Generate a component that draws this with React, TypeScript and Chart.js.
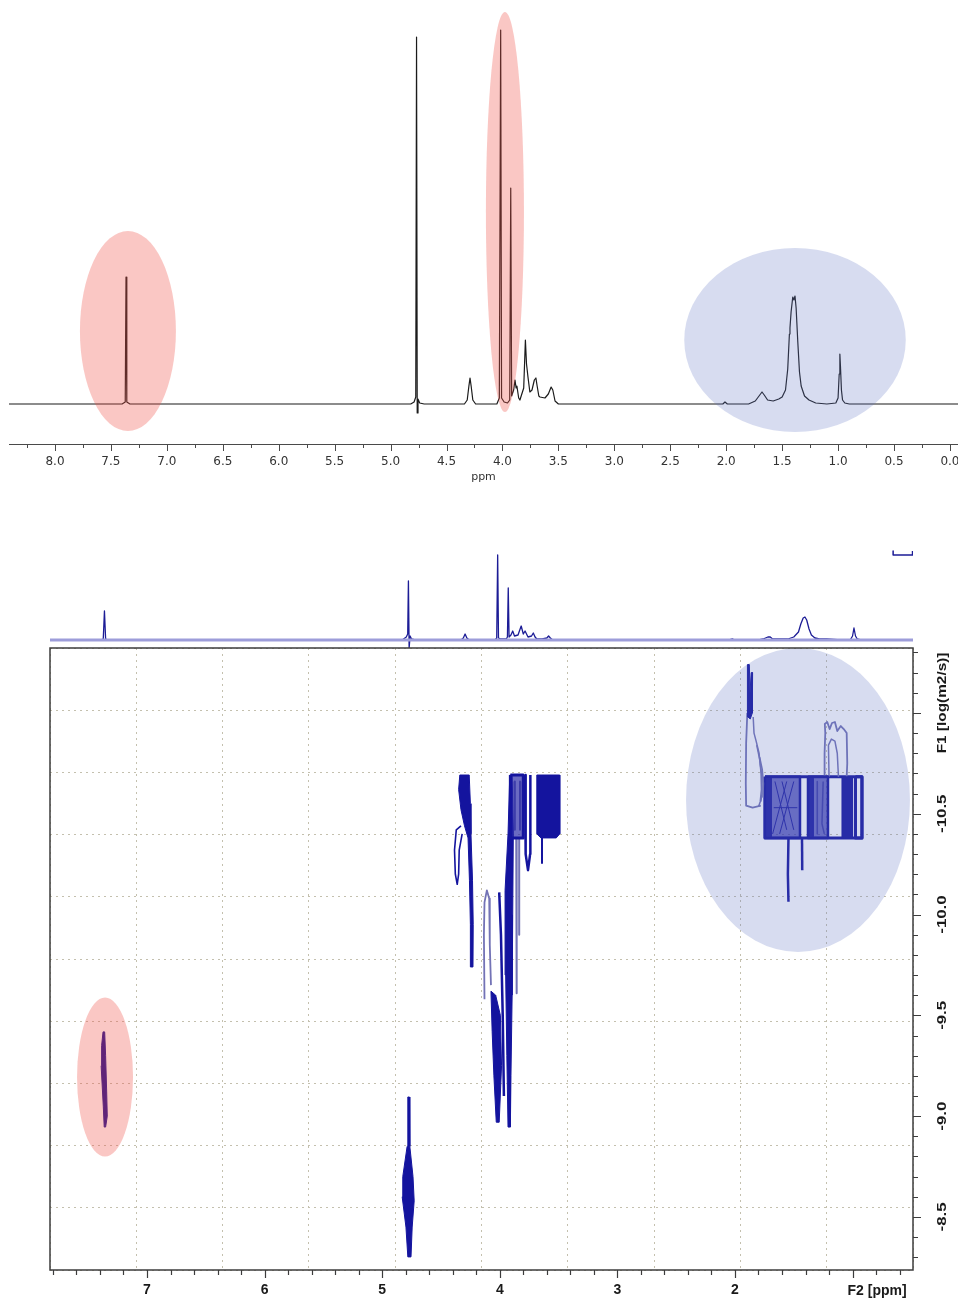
import React, { useEffect, useRef } from 'react';
import { Chart, registerables } from 'chart.js';

Chart.register(...registerables);

type Pt = [number, number];

/* ================= Panel 1 : 1H NMR spectrum ================= */
const TOP_PPM = [8.45, 7.40, 7.372, 7.365, 7.358, 7.33, 4.82, 4.79, 4.775, 4.768, 4.762, 4.755, 4.74, 4.70,
  4.34, 4.315, 4.30, 4.29, 4.28, 4.265, 4.24, 4.05, 4.028, 4.016, 4.008, 3.985, 3.955, 3.935, 3.926, 3.918,
  3.90, 3.888, 3.878, 3.871, 3.855, 3.844, 3.81, 3.795, 3.785, 3.772, 3.755, 3.736, 3.715, 3.701, 3.69,
  3.675, 3.665, 3.62, 3.59, 3.565, 3.55, 3.53, 3.50, 2.03, 2.011, 1.99, 1.80, 1.74, 1.70, 1.68, 1.66, 1.63,
  1.58, 1.53, 1.50, 1.47, 1.45, 1.435, 1.43, 1.42, 1.405, 1.395, 1.385, 1.375, 1.36, 1.345, 1.33, 1.30,
  1.26, 1.20, 1.10, 1.02, 1.00, 0.99, 0.984, 0.978, 0.97, 0.96, 0.94, 0.90, -0.10];
const TOP_INT = [0, 0, 2, 127, 2, 0, 0, 2, 7, 367, -9, 5, 1, 0,
  0, 4, 18, 26, 18, 4, 0, 0, 6, 374, 6, 2, 1, 4, 216, 8,
  14, 24, 16, 18, 6, 4, 16, 64, 40, 27, 12, 14, 24, 26, 18,
  8, 7, 6, 10, 17, 14, 3, 0, 0, 2, 0, 0, 3, 9, 12, 9, 4,
  3, 5, 7, 14, 35, 70, 76, 92, 107, 104, 108, 96, 62, 32, 18, 8,
  4, 1, 0, 1, 6, 30, 50, 36, 14, 4, 1, 0, 0];
const TOP_X_RANGE: Pt = [-0.072, 8.411];
const TOP_Y_RANGE: Pt = [-40, 394];
const TOP_MINOR_STEP = 0.25;
const TOP_MAJOR_STEP = 0.5;
const TOP_X_TITLE = 'ppm';

const TOP_HL_PPM = [7.348, 3.978, 1.385];
const TOP_HL_INT = [73, 192, 64];
const TOP_HL_HALF_PPM = [0.429, 0.17, 0.99];
const TOP_HL_HALF_INT = [100, 200, 92];
const TOP_HL_KIND = ['red', 'red', 'blue'];

/* ================= Panel 2 : DOSY F2 projection ================= */
const PROJ_PPM = [7.85, 7.40, 7.372, 7.362, 7.352, 7.33, 4.83, 4.795, 4.783, 4.777, 4.771, 4.763, 4.75, 4.72,
  4.33, 4.31, 4.295, 4.28, 4.26, 4.04, 4.026, 4.018, 4.011, 3.99, 3.945, 3.935, 3.928, 3.921, 3.905, 3.89,
  3.875, 3.845, 3.818, 3.80, 3.785, 3.76, 3.73, 3.715, 3.70, 3.685, 3.64, 3.60, 3.585, 3.57, 3.55, 3.52,
  2.05, 2.02, 2.00, 1.80, 1.76, 1.72, 1.70, 1.68, 1.64, 1.55, 1.50, 1.46, 1.44, 1.42, 1.405, 1.39, 1.37,
  1.35, 1.32, 1.28, 1.22, 1.10, 1.02, 1.00, 0.988, 0.975, 0.96, 0.93, 0.45];
const PROJ_INT = [0, 0, 1, 29, 1, 0, 0, 3, 6, 59, -8, 4, 1, 0,
  0, 2, 6, 2, 0, 0, 2, 85, 2, 1, 1, 3, 52, 3, 5, 9,
  4, 5, 14, 6, 9, 3, 4, 7, 3, 1, 1, 2, 4, 2, 0, 0,
  0, 1, 0, 0, 1, 3, 3, 1, 1, 1, 3, 8, 16, 22, 23, 20, 11,
  5, 2, 1, 1, 0, 0, 4, 12, 4, 1, 0, 0];
const PROJ_Y_RANGE: Pt = [-8, 92];
const PROJ_SCALE_BAR: Pt[] = [[0.655, 89], [0.655, 85], [0.49, 85], [0.49, 89]];

/* ================= Panel 3 : DOSY map ================= */
const DOSY_X_RANGE: Pt = [0.486, 7.825];
const DOSY_Y_RANGE: Pt = [-11.322, -8.237];
const DOSY_X_MINOR = 0.2;
const DOSY_X_MAJOR = 1;
const DOSY_Y_MINOR = 0.1;
const DOSY_Y_MAJOR = 0.5;
const DOSY_X_LABELS = ['7', '6', '5', '4', '3', '2'];
const DOSY_X_TITLE = 'F2 [ppm]';
const DOSY_X_TITLE_AT = 1;
const DOSY_Y_LABEL_VALUES = [-10.5, -10.0, -9.5, -9.0, -8.5];
const DOSY_Y_LABELS = ['-10.5', '-10.0', '-9.5', '-9.0', '-8.5'];
const DOSY_Y_TITLE = 'F1 [log(m2/s)]';
const DOSY_Y_TITLE_AT = -11.0;
const DOSY_GRID_DIVISIONS = 10;

const DOSY_HL_PPM = [7.357, 1.464];
const DOSY_HL_LOGD = [-9.194, -10.568];
const DOSY_HL_HALF_PPM = [0.238, 0.952];
const DOSY_HL_HALF_LOGD = [0.394, 0.754];
const DOSY_HL_KIND = ['red', 'blue'];

// contour traces (ppm, log D)
const CONT_AROM: Pt[] = [[7.374, -9.418], [7.36, -9.418], [7.352, -9.30], [7.343, -9.12], [7.338, -9.0], [7.352, -8.946],
  [7.364, -8.946], [7.372, -9.05], [7.39, -9.25], [7.386, -9.35], [7.374, -9.418]];
const CONT_HDO: Pt[] = [[4.782, -9.095], [4.768, -9.095], [4.765, -8.85], [4.738, -8.70], [4.728, -8.58], [4.745, -8.45],
  [4.755, -8.302], [4.782, -8.302], [4.798, -8.45], [4.83, -8.60], [4.825, -8.70], [4.788, -8.85], [4.782, -9.095]];
const CONT_G1_BAR: Pt[] = [[4.34, -10.692], [4.26, -10.692], [4.25, -10.55], [4.245, -10.40], [4.232, -10.17], [4.226, -9.95],
  [4.228, -9.74], [4.245, -9.74], [4.25, -9.95], [4.258, -10.17], [4.27, -10.38], [4.30, -10.44], [4.33, -10.52],
  [4.35, -10.62], [4.34, -10.692]];
const CONT_G1_LOOP: Pt[] = [[4.33, -10.44], [4.37, -10.42], [4.385, -10.32], [4.378, -10.20], [4.362, -10.15], [4.35, -10.20],
  [4.345, -10.32], [4.32, -10.40]];
const CONT_G1_INNER: Pt[] = [[4.31, -10.66], [4.305, -10.55], [4.295, -10.47]];
const CONT_G2_LOOP: Pt[] = [[4.13, -9.58], [4.135, -9.90], [4.13, -10.06], [4.11, -10.12], [4.09, -10.08], [4.085, -9.85], [4.075, -9.65]];
const CONT_G2_BAR: Pt[] = [[4.075, -9.62], [4.035, -9.60], [3.995, -9.50], [3.985, -9.25], [4.005, -8.97], [4.03, -8.97],
  [4.05, -9.2], [4.065, -9.42], [4.075, -9.62]];
const CONT_G2_EDGE: Pt[] = [[4.005, -10.11], [3.99, -9.9], [3.975, -9.5], [3.965, -9.1]];
const CONT_G3_BAR: Pt[] = [[3.915, -10.692], [3.895, -10.692], [3.885, -10.40], [3.89, -10.0], [3.895, -9.6], [3.905, -9.2],
  [3.91, -8.946], [3.93, -8.946], [3.94, -9.3], [3.95, -9.7], [3.955, -10.12], [3.93, -10.40], [3.915, -10.692]];
const CONT_G3_BOX: Pt[] = [[3.91, -10.692], [3.80, -10.692], [3.80, -10.38], [3.91, -10.38], [3.91, -10.692]];
const CONT_G3_TAILS: Pt[][] = [
  [[3.86, -10.38], [3.858, -10.0], [3.855, -9.61]],
  [[3.835, -10.38], [3.835, -9.9]],
  [[3.875, -10.66], [3.872, -10.42]],
  [[3.825, -10.66], [3.828, -10.42]],
];
const CONT_G3_SIDE: Pt[] = [[3.785, -10.692], [3.78, -10.30], [3.76, -10.22], [3.742, -10.30], [3.74, -10.692]];
const CONT_G4_BLOCK: Pt[] = [[3.685, -10.692], [3.49, -10.692], [3.49, -10.40], [3.52, -10.38], [3.65, -10.38], [3.685, -10.40], [3.685, -10.692]];
const CONT_G4_INNER: Pt[][] = [
  [[3.63, -10.66], [3.63, -10.42]],
  [[3.58, -10.66], [3.58, -10.42]],
  [[3.535, -10.66], [3.535, -10.42]],
];
const CONT_G4_STEM: Pt[] = [[3.641, -10.38], [3.641, -10.256]];
const CONT_L1_SPIKE: Pt[] = [[1.893, -11.24], [1.878, -11.24], [1.872, -11.1], [1.862, -11.20], [1.85, -11.20], [1.852, -11.0],
  [1.87, -10.97], [1.89, -10.98], [1.895, -11.1], [1.893, -11.24]];
const CONT_L1_OUTER: Pt[] = [[1.895, -11.0], [1.905, -10.85], [1.908, -10.65], [1.905, -10.54], [1.85, -10.53], [1.78, -10.54]];
const CONT_L1_ARCS: Pt[][] = [
  [[1.845, -10.98], [1.838, -10.90], [1.82, -10.86], [1.795, -10.80], [1.778, -10.70], [1.775, -10.62], [1.785, -10.56], [1.80, -10.535]],
  [[1.815, -10.84], [1.79, -10.77], [1.77, -10.68], [1.77, -10.60], [1.78, -10.56]],
  [[1.79, -10.78], [1.768, -10.72], [1.758, -10.65], [1.762, -10.58]],
];
const CONT_L2_BLOCK: Pt[] = [[1.745, -10.683], [1.447, -10.683], [1.447, -10.38], [1.745, -10.38], [1.745, -10.683]];
const CONT_L2_EDGE: Pt[] = [[1.745, -10.683], [1.69, -10.683], [1.69, -10.38], [1.745, -10.38], [1.745, -10.683]];
const CONT_L2_HATCH: Pt[][] = [
  [[1.68, -10.40], [1.56, -10.66]],
  [[1.62, -10.40], [1.50, -10.66]],
  [[1.56, -10.42], [1.66, -10.66]],
  [[1.50, -10.42], [1.60, -10.66]],
  [[1.67, -10.53], [1.47, -10.53]],
];
const CONT_L3_BLOCK: Pt[] = [[1.379, -10.683], [1.209, -10.683], [1.209, -10.38], [1.379, -10.38], [1.379, -10.683]];
const CONT_L3_EDGE: Pt[] = [[1.379, -10.683], [1.335, -10.683], [1.335, -10.38], [1.379, -10.38], [1.379, -10.683]];
const CONT_L3_INNER: Pt[][] = [
  [[1.30, -10.66], [1.30, -10.40]],
  [[1.25, -10.66], [1.26, -10.45], [1.24, -10.40]],
];
const CONT_L4_BLOCK: Pt[] = [[1.09, -10.683], [1.0, -10.683], [1.0, -10.38], [1.09, -10.38], [1.09, -10.683]];
const CONT_L4_RIM: Pt[] = [[0.975, -10.683], [0.92, -10.683], [0.92, -10.38], [0.975, -10.38], [0.975, -10.683]];
const CONT_L5_OUTLINE: Pt[] = [[1.235, -10.683], [1.238, -10.80], [1.232, -10.90], [1.236, -10.945], [1.215, -10.955],
  [1.195, -10.92], [1.175, -10.95], [1.15, -10.955], [1.13, -10.91], [1.10, -10.935], [1.075, -10.92], [1.05, -10.90],
  [1.045, -10.75], [1.05, -10.683]];
const CONT_L5_INNER: Pt[] = [[1.20, -10.683], [1.205, -10.84], [1.18, -10.87], [1.15, -10.86], [1.13, -10.80], [1.12, -10.683]];
const CONT_L6_SPIKES: Pt[][] = [
  [[1.545, -10.38], [1.55, -10.20], [1.545, -10.063]],
  [[1.43, -10.38], [1.428, -10.22]],
];
const CONT_L_FRAME: Pt[] = [[1.745, -10.683], [0.92, -10.683], [0.92, -10.38], [1.745, -10.38], [1.745, -10.683]];

/* ================= styling ================= */
const NAVY = '#14149e';
const PALE = '#7373b6';
const HALF = 'rgba(35,35,165,0.68)';
const RED_HL = 'rgba(240,80,70,0.32)';
const BLUE_HL = 'rgba(95,115,195,0.25)';
const GRID = '#c4c0ae';
const SANS = "'DejaVu Sans', 'Liberation Sans', sans-serif";
const ARIAL = "'Liberation Sans', Arial, sans-serif";

const isMult = (v: number, step: number) => Math.abs(v / step - Math.round(v / step)) < 1e-6;

function ds(points: Pt[], color: string, width: number, fillColor?: string) {
  return {
    data: points.map(([x, y]) => ({ x, y })),
    borderColor: color,
    borderWidth: width,
    backgroundColor: fillColor || 'transparent',
    fill: fillColor ? 'shape' : false,
    pointRadius: 0,
    tension: 0,
    borderJoinStyle: 'round',
  };
}

function ellipsePlugin(items: { cx: number; cy: number; rx: number; ry: number; kind: string }[]) {
  return {
    id: 'hlEllipses',
    afterDatasetsDraw(chart: any) {
      const xs = chart.scales.x, ys = chart.scales.y, ctx = chart.ctx;
      ctx.save();
      for (const it of items) {
        const cx = xs.getPixelForValue(it.cx), cy = ys.getPixelForValue(it.cy);
        const rx = Math.abs(xs.getPixelForValue(it.cx + it.rx) - cx);
        const ry = Math.abs(ys.getPixelForValue(it.cy + it.ry) - cy);
        ctx.beginPath();
        ctx.ellipse(cx, cy, rx, ry, 0, 0, Math.PI * 2);
        ctx.fillStyle = it.kind === 'red' ? RED_HL : BLUE_HL;
        ctx.fill();
      }
      ctx.restore();
    },
  };
}

function tickPlugin(specs: { id: string; major: number; majorLen: number; minorLen: number; color: string; width: number }[]) {
  return {
    id: 'tickMarks',
    afterDraw(chart: any) {
      const ctx = chart.ctx;
      ctx.save();
      for (const s of specs) {
        const sc = chart.scales[s.id];
        if (!sc) continue;
        ctx.strokeStyle = s.color;
        ctx.lineWidth = s.width;
        ctx.beginPath();
        for (const t of sc.ticks) {
          const len = isMult(t.value, s.major) ? s.majorLen : s.minorLen;
          const p = Math.round(sc.getPixelForValue(t.value)) + 0.5;
          if (sc.isHorizontal()) {
            ctx.moveTo(p, sc.top);
            ctx.lineTo(p, sc.top + len);
          } else {
            ctx.moveTo(sc.left, p);
            ctx.lineTo(sc.left + len, p);
          }
        }
        ctx.stroke();
      }
      ctx.restore();
    },
  };
}

const frameAndLabels = {
  id: 'frameAndLabels',
  afterDraw(chart: any) {
    const ctx = chart.ctx, a = chart.chartArea, xs = chart.scales.x, ys = chart.scales.y;
    ctx.save();
    ctx.strokeStyle = '#3c3c3c';
    ctx.lineWidth = 1.5;
    ctx.strokeRect(a.left, a.top, a.right - a.left, a.bottom - a.top);
    ctx.fillStyle = '#1a1a1a';
    ctx.textAlign = 'center';
    ctx.textBaseline = 'middle';
    ctx.font = `bold 12px ${ARIAL}`;
    const lx = ys.left + 30;
    DOSY_Y_LABEL_VALUES.forEach((v, i) => {
      ctx.save();
      ctx.translate(lx, ys.getPixelForValue(v));
      ctx.rotate(-Math.PI / 2);
      ctx.scale(1.4, 1);
      ctx.fillText(DOSY_Y_LABELS[i], 0, 0);
      ctx.restore();
    });
    ctx.save();
    ctx.translate(lx, ys.getPixelForValue(DOSY_Y_TITLE_AT) - 10);
    ctx.rotate(-Math.PI / 2);
    ctx.scale(1.28, 1);
    ctx.fillText(DOSY_Y_TITLE, 0, 0);
    ctx.restore();
    ctx.font = `bold 14px ${ARIAL}`;
    ctx.textAlign = 'left';
    ctx.fillText(DOSY_X_TITLE, xs.getPixelForValue(DOSY_X_TITLE_AT) - 5, xs.top + 21);
    ctx.restore();
  },
};

function topConfig(): any {
  return {
    type: 'line',
    data: {
      datasets: [{
        data: TOP_PPM.map((x, i) => ({ x, y: TOP_INT[i] })),
        borderColor: '#1b1b1b', borderWidth: 1.2, pointRadius: 0, fill: false, tension: 0, borderJoinStyle: 'round',
      }],
    },
    options: {
      responsive: false, animation: false, events: [],
      layout: { padding: { left: 9, right: 0, top: 10, bottom: 0 } },
      plugins: { legend: { display: false }, tooltip: { enabled: false } },
      scales: {
        x: {
          type: 'linear', reverse: true, min: TOP_X_RANGE[0], max: TOP_X_RANGE[1],
          ticks: {
            stepSize: TOP_MINOR_STEP, includeBounds: false, autoSkip: false, maxRotation: 0, minRotation: 0,
            padding: 11, color: '#333', font: { family: SANS, size: 12 },
            callback: (v: number) => (isMult(v, TOP_MAJOR_STEP) ? Number(v).toFixed(1) : ''),
          },
          grid: { display: false, drawTicks: false },
          border: { display: true, color: '#4a4a4a', width: 1 },
          title: { display: true, text: TOP_X_TITLE, color: '#333', font: { family: SANS, size: 11 }, padding: { top: 0, bottom: 6 } },
          afterFit: (s: any) => { s.height = 46; s.paddingLeft = 0; s.paddingRight = 0; },
        },
        y: { type: 'linear', display: false, min: TOP_Y_RANGE[0], max: TOP_Y_RANGE[1] },
      },
    },
    plugins: [
      ellipsePlugin(TOP_HL_PPM.map((cx, i) => ({ cx, cy: TOP_HL_INT[i], rx: TOP_HL_HALF_PPM[i], ry: TOP_HL_HALF_INT[i], kind: TOP_HL_KIND[i] }))),
      tickPlugin([{ id: 'x', major: TOP_MAJOR_STEP, majorLen: 7, minorLen: 4, color: '#4a4a4a', width: 1 }]),
    ],
  };
}

function projConfig(): any {
  return {
    type: 'line',
    data: {
      datasets: [
        ds([[DOSY_X_RANGE[1], 0], [DOSY_X_RANGE[0], 0]], '#9d9dda', 3),
        {
          data: PROJ_PPM.map((x, i) => ({ x, y: PROJ_INT[i] })),
          borderColor: '#1c1c96', borderWidth: 1.3, pointRadius: 0, fill: false, tension: 0, borderJoinStyle: 'round',
        },
        ds(PROJ_SCALE_BAR, '#1c1c96', 1.5),
      ],
    },
    options: {
      responsive: false, animation: false, events: [],
      layout: { padding: { left: 50, right: 45, top: 8, bottom: 0 } },
      plugins: { legend: { display: false }, tooltip: { enabled: false } },
      scales: {
        x: { type: 'linear', display: false, reverse: true, min: DOSY_X_RANGE[0], max: DOSY_X_RANGE[1] },
        y: { type: 'linear', display: false, min: PROJ_Y_RANGE[0], max: PROJ_Y_RANGE[1] },
      },
    },
  };
}

function dosyConfig(): any {
  const datasets = [
    ds(CONT_AROM, '#1c1090', 1, '#1c1090'),
    ds(CONT_HDO, NAVY, 1, NAVY),
    ds(CONT_G1_BAR, NAVY, 1, NAVY),
    ds(CONT_G1_LOOP, NAVY, 1.6),
    ds(CONT_G1_INNER, PALE, 1.5),
    ds(CONT_G2_LOOP, PALE, 1.8),
    ds(CONT_G2_BAR, NAVY, 1, NAVY),
    ds(CONT_G2_EDGE, NAVY, 2.5),
    ds(CONT_G3_BOX, NAVY, 3, HALF),
    ds(CONT_G3_BAR, NAVY, 1, NAVY),
    ...CONT_G3_TAILS.map((p) => ds(p, PALE, 2)),
    ds(CONT_G3_SIDE, NAVY, 2.5),
    ds(CONT_G4_BLOCK, NAVY, 1, NAVY),
    ...CONT_G4_INNER.map((p) => ds(p, PALE, 1.5)),
    ds(CONT_G4_STEM, NAVY, 2),
    ds(CONT_L1_SPIKE, NAVY, 1, NAVY),
    ds(CONT_L1_OUTER, PALE, 1.8),
    ...CONT_L1_ARCS.map((p) => ds(p, PALE, 1.5)),
    ds(CONT_L2_BLOCK, NAVY, 2.5, HALF),
    ...CONT_L2_HATCH.map((p) => ds(p, NAVY, 1)),
    ds(CONT_L2_EDGE, NAVY, 1, NAVY),
    ds(CONT_L3_BLOCK, NAVY, 2.5, HALF),
    ds(CONT_L3_EDGE, NAVY, 1, NAVY),
    ...CONT_L3_INNER.map((p) => ds(p, PALE, 1.5)),
    ds(CONT_L4_BLOCK, NAVY, 1, NAVY),
    ds(CONT_L4_RIM, NAVY, 3),
    ds(CONT_L5_OUTLINE, PALE, 1.8),
    ds(CONT_L5_INNER, PALE, 1.5),
    ...CONT_L6_SPIKES.map((p) => ds(p, NAVY, 2.5)),
    ds(CONT_L_FRAME, NAVY, 3),
  ];
  return {
    type: 'line',
    data: { datasets },
    options: {
      responsive: false, animation: false, events: [],
      layout: { padding: { left: 50, right: 0, top: 8, bottom: 0 } },
      plugins: { legend: { display: false }, tooltip: { enabled: false } },
      scales: {
        x: {
          type: 'linear', position: 'bottom', reverse: true, min: DOSY_X_RANGE[0], max: DOSY_X_RANGE[1],
          ticks: {
            stepSize: DOSY_X_MINOR, includeBounds: false, autoSkip: false, maxRotation: 0, minRotation: 0,
            padding: 12, color: '#1a1a1a', font: { family: ARIAL, size: 14, weight: 'bold' },
            callback: (v: number) => {
              if (!isMult(v, DOSY_X_MAJOR)) return '';
              const s = String(Math.round(v));
              return DOSY_X_LABELS.includes(s) ? s : '';
            },
          },
          grid: { display: false, drawTicks: false },
          border: { display: false },
          afterFit: (s: any) => { s.height = 33; s.paddingLeft = 0; s.paddingRight = 0; },
        },
        y: {
          type: 'linear', position: 'right', reverse: true, min: DOSY_Y_RANGE[0], max: DOSY_Y_RANGE[1],
          ticks: { display: false, stepSize: DOSY_Y_MINOR, includeBounds: false, maxTicksLimit: 1000 },
          grid: { display: false, drawTicks: false },
          border: { display: false },
          afterFit: (s: any) => { s.width = 45; },
        },
        gx: {
          type: 'linear', position: 'bottom', min: 0, max: DOSY_GRID_DIVISIONS,
          ticks: { display: false, stepSize: 1 },
          grid: { color: GRID, lineWidth: 1, drawTicks: false },
          border: { display: false, dash: [2, 4] },
          afterFit: (s: any) => { s.height = 0; },
        },
        gy: {
          type: 'linear', position: 'left', min: 0, max: DOSY_GRID_DIVISIONS,
          ticks: { display: false, stepSize: 1 },
          grid: { color: GRID, lineWidth: 1, drawTicks: false },
          border: { display: false, dash: [2, 4] },
          afterFit: (s: any) => { s.width = 0; },
        },
      },
    },
    plugins: [
      ellipsePlugin(DOSY_HL_PPM.map((cx, i) => ({ cx, cy: DOSY_HL_LOGD[i], rx: DOSY_HL_HALF_PPM[i], ry: DOSY_HL_HALF_LOGD[i], kind: DOSY_HL_KIND[i] }))),
      tickPlugin([
        { id: 'x', major: DOSY_X_MAJOR, majorLen: 8, minorLen: 5, color: '#3c3c3c', width: 1.2 },
        { id: 'y', major: DOSY_Y_MAJOR, majorLen: 8, minorLen: 5, color: '#3c3c3c', width: 1.2 },
      ]),
      frameAndLabels,
    ],
  };
}

export default function App() {
  const topRef = useRef<HTMLCanvasElement>(null);
  const projRef = useRef<HTMLCanvasElement>(null);
  const dosyRef = useRef<HTMLCanvasElement>(null);

  useEffect(() => {
    const charts = [
      new Chart(topRef.current as HTMLCanvasElement, topConfig()),
      new Chart(projRef.current as HTMLCanvasElement, projConfig()),
      new Chart(dosyRef.current as HTMLCanvasElement, dosyConfig()),
    ];
    return () => charts.forEach((c) => c.destroy());
  }, []);

  return (
    <div style={{ position: 'absolute', left: 0, top: 0, width: 958, height: 1303, background: '#fff', overflow: 'hidden' }}>
      <canvas ref={topRef} width={958} height={490} style={{ position: 'absolute', left: 0, top: 0 }} />
      <canvas ref={projRef} width={958} height={108} style={{ position: 'absolute', left: 0, top: 540 }} />
      <canvas ref={dosyRef} width={958} height={663} style={{ position: 'absolute', left: 0, top: 640 }} />
    </div>
  );
}
